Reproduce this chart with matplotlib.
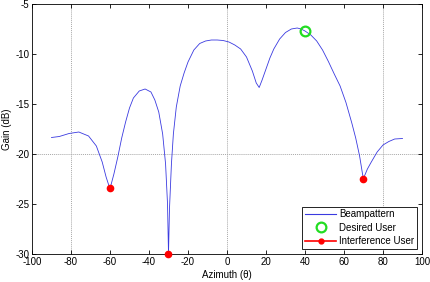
import matplotlib
matplotlib.use("Agg")
import matplotlib.pyplot as plt
from matplotlib.lines import Line2D

plt.rcParams['font.family'] = ['Liberation Sans', 'DejaVu Sans']
plt.rcParams['axes.unicode_minus'] = False

azimuth = [-90, -86, -81, -76, -71, -67, -64, -62, -60.5, -60, -59.5, -58, -56, -54, -52, -50,
           -48, -45, -42, -39, -37, -35, -33, -31.5, -30.5, -30, -29.5, -28.5, -27.5, -26, -24,
           -22, -20, -17, -14, -11, -8, -5, -2, 1, 4, 7, 10, 13, 15, 16.5, 18, 20, 22, 24, 27,
           30, 33, 36, 38, 40, 43, 46, 49, 52, 55, 58, 61, 64, 66, 68, 69.5, 70, 70.5, 72, 74,
           77, 80, 83, 86, 90]
gain_db = [-18.35, -18.25, -17.95, -17.8, -18.2, -19.2, -20.8, -22.3, -23.2, -23.4, -23.1, -22.0,
           -20.3, -18.4, -16.8, -15.4, -14.4, -13.7, -13.5, -13.8, -14.6, -15.8, -18.0, -21.0,
           -25.0, -30.0, -25.5, -21.0, -18.0, -15.3, -13.2, -11.9, -10.8, -9.6, -8.95, -8.7,
           -8.6, -8.6, -8.65, -8.8, -9.1, -9.5, -10.3, -11.7, -12.9, -13.35, -12.6, -11.5, -10.4,
           -9.5, -8.5, -7.85, -7.5, -7.4, -7.5, -7.7, -8.1, -8.7, -9.6, -10.75, -12.0, -13.2,
           -14.85, -16.9, -18.4, -20.2, -22.0, -22.5, -22.2, -21.5, -20.8, -19.8, -19.1, -18.75,
           -18.5, -18.45]

desired_az = [40]
desired_gain = [-7.7]
interf_az = [-60, -30, 70]
interf_gain = [-23.4, -30.0, -22.5]

xticks = [-100, -80, -60, -40, -20, 0, 20, 40, 60, 80, 100]
yticks = [-30, -25, -20, -15, -10, -5]

fig = plt.figure(figsize=(4.31, 2.82), dpi=100)
ax = fig.add_axes([32/431, 28/282, 390/431, 250/282])

for gx in [-80, 0, 80]:
    ax.axvline(gx, color='#a8a8a8', lw=0.7, ls=(0, (1, 1)), zorder=0)
ax.axhline(-20, color='#a8a8a8', lw=0.7, ls=(0, (1, 1)), zorder=0)

ax.plot(azimuth, gain_db, color='#3a3ae0', lw=0.6, label='Beampattern')
ax.plot(desired_az, desired_gain, ls='none', marker='o', ms=7, mfc='none', mec='#22dd22',
        mew=1.6, label='Desired User', clip_on=False)
ax.plot(interf_az, interf_gain, ls='none', marker='o', ms=4.5, mfc='red', mec='red',
        clip_on=False, zorder=5)

ax.set_xlim(-100, 100)
ax.set_ylim(-30, -5)
ax.set_xticks(xticks)
ax.set_yticks(yticks)
ax.tick_params(direction='in', length=3, width=0.6, labelsize=7, top=True, right=True, pad=2)
for s in ax.spines.values():
    s.set_linewidth(0.6)
ax.set_xlabel('Azimuth (θ)', fontsize=7, labelpad=2)
ax.set_ylabel('Gain (dB)', fontsize=7, labelpad=2)

handles = [Line2D([], [], color='#3a3ae0', lw=0.8),
           Line2D([], [], ls='none', marker='o', ms=7, mfc='none', mec='#22dd22', mew=1.6),
           Line2D([], [], color='red', lw=1.2, marker='o', ms=3.5, mfc='red', mec='red')]
leg = ax.legend(handles, ['Beampattern', 'Desired User', 'Interference User'],
                loc='lower right', fontsize=7, frameon=True, fancybox=False,
                edgecolor='black', framealpha=1, borderaxespad=0.5, handlelength=3.2,
                labelspacing=0.35, borderpad=0.3, handletextpad=0.3)
leg.get_frame().set_linewidth(0.6)

fig.savefig('out.png', dpi=100)
